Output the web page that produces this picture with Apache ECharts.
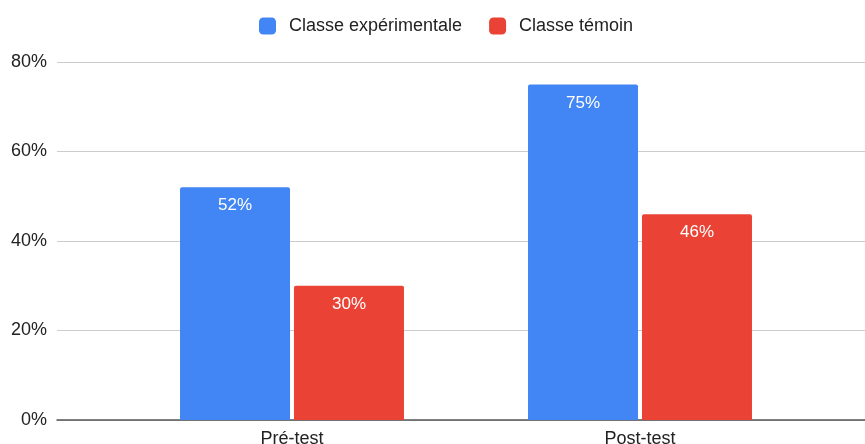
<!DOCTYPE html>
<html>
<head>
<meta charset="utf-8">
<script src="https://cdn.jsdelivr.net/npm/echarts@6/dist/echarts.min.js"></script>
<style>
  html, body { margin: 0; padding: 0; background: #fff; }
  #chart { width: 865px; height: 444px; }
</style>
</head>
<body>
<div id="chart"></div>
<script>
var categories = ['Pré-test', 'Post-test'];
var seriesNames = ['Classe expérimentale', 'Classe témoin'];
var experimental = [52, 75];
var control = [30, 46];
var yTicks = [0, 20, 40, 60, 80];

var chart = echarts.init(document.getElementById('chart'));

var labelStyle = {
    show: true,
    position: 'insideTop',
    distance: 10,
    color: '#fff',
    fontSize: 17,
    fontFamily: 'Arial',
    formatter: function (p) { return p.value + '%'; }
};

var option = {
    animation: false,
    textStyle: { fontFamily: 'Arial' },
    legend: {
        top: 12,
        left: 254,
        itemWidth: 17,
        itemHeight: 17,
        itemGap: 27,
        icon: 'roundRect',
        textStyle: { fontSize: 18, color: '#222', padding: [0, 0, 0, 8] },
        data: seriesNames
    },
    // full-width grid for gridlines and y labels, inner grid for the bars
    grid: [
        { left: 57, right: 0, top: 62, bottom: 24, containLabel: false, outerBoundsMode: 'none' },
        { left: 118, right: 51, top: 62, bottom: 24, containLabel: false, outerBoundsMode: 'none' }
    ],
    xAxis: [
        {
            gridIndex: 0,
            type: 'category',
            data: categories,
            axisLine: { show: true, lineStyle: { color: '#555', width: 1.5 } },
            axisTick: { show: false },
            axisLabel: { show: false }
        },
        {
            gridIndex: 1,
            type: 'category',
            data: categories,
            axisLine: { show: false },
            axisTick: { show: false },
            axisLabel: { fontSize: 18, color: '#222', margin: 10 }
        }
    ],
    yAxis: [
        {
            gridIndex: 0,
            type: 'value',
            min: yTicks[0],
            max: yTicks[yTicks.length - 1],
            interval: 20,
            axisLine: { show: false },
            axisTick: { show: false },
            axisLabel: { fontSize: 18, color: '#222', margin: 10, formatter: '{value}%' },
            splitLine: { lineStyle: { color: '#ccc', width: 1 } }
        },
        {
            gridIndex: 1,
            type: 'value',
            min: yTicks[0],
            max: yTicks[yTicks.length - 1],
            interval: 20,
            show: false,
            splitLine: { show: false }
        }
    ],
    series: [
        {
            name: seriesNames[0],
            type: 'bar',
            xAxisIndex: 1,
            yAxisIndex: 1,
            data: experimental,
            barWidth: 110,
            barGap: '3.6%',
            itemStyle: { color: '#4285F4', borderRadius: [2, 2, 0, 0] },
            label: labelStyle
        },
        {
            name: seriesNames[1],
            type: 'bar',
            xAxisIndex: 1,
            yAxisIndex: 1,
            data: control,
            barWidth: 110,
            barGap: '3.6%',
            itemStyle: { color: '#EA4335', borderRadius: [2, 2, 0, 0] },
            label: labelStyle
        }
    ]
};

chart.setOption(option);
</script>
</body>
</html>
